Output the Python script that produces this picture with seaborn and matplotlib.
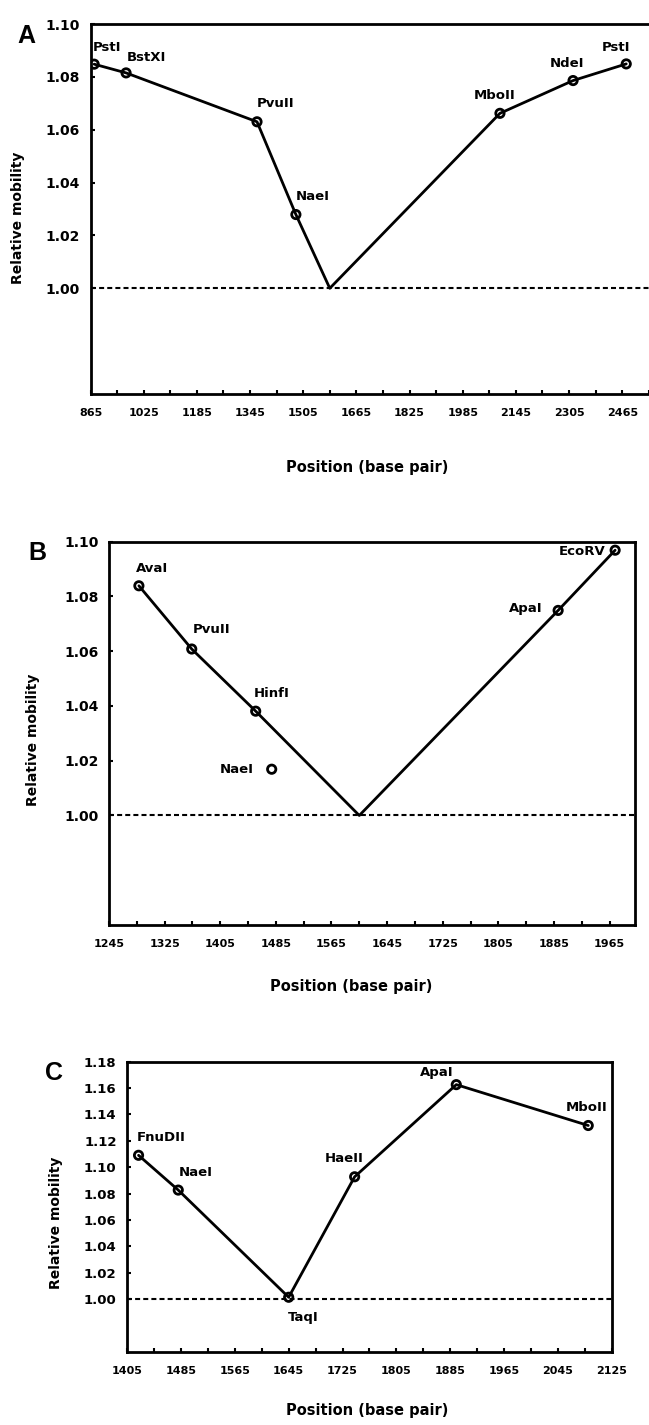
import matplotlib
matplotlib.use("Agg")
import matplotlib.pyplot as plt
import numpy as np
import seaborn as sns

sns.set_theme(style="white")
plt.rcParams['font.family'] = ['DejaVu Sans']
plt.rcParams['font.weight'] = 'bold'
plt.rcParams.update({'text.color': 'black', 'axes.labelcolor': 'black',
                     'xtick.color': 'black', 'ytick.color': 'black'})

W, H = 649, 1425

# ---- data ----
# panel A
a_sites = ["PstI", "BstXI", "PvuII", "NaeI", "MboII", "NdeI", "PstI"]
a_pos = [876, 972, 1366, 1483, 2097, 2317, 2477]
a_mob = [1.0848, 1.0815, 1.0630, 1.0279, 1.0662, 1.0786, 1.0849]
a_bend = [1585, 1.000]

# panel B
b_sites = ["AvaI", "PvuII", "HinfI", "ApaI", "EcoRV"]
b_pos = [1288, 1364, 1456, 1891, 1973]
b_mob = [1.0839, 1.0608, 1.0381, 1.0749, 1.0969]
b_bend = [1605, 1.000]
b_off_site = ["NaeI"]
b_off_pos = [1479]
b_off_mob = [1.0169]

# panel C
c_sites = ["FnuDII", "NaeI", "TaqI", "HaeII", "ApaI", "MboII"]
c_pos = [1422, 1481, 1645, 1743, 1894, 2090]
c_mob = [1.1090, 1.0826, 1.0013, 1.0927, 1.1626, 1.1316]

# label placement: (dx pt, dy pt, ha)
a_lab = [(-1, 12, 'left'), (0.5, 11.2, 'left'), (0, 13, 'left'), (0, 13, 'left'),
         (-3.6, 13, 'center'), (-4.3, 12.5, 'center'), (3, 11.7, 'right')]
b_lab = [(-1.8, 12.5, 'left'), (0.6, 14, 'left'), (-1.7, 12.7, 'left'),
         (-11.5, 1.5, 'right'), (-6.8, -1, 'right')]
b_off_lab = [(-12.6, 0, 'right')]
c_lab = [(-1, 12.5, 'left'), (0, 12.5, 'left'), (-0.6, -14.4, 'left'),
         (6.5, 13, 'right'), (-2, 8.6, 'right'), (-1.2, 13, 'center')]


def fx(px):
    return px / W


def fy(px):
    return 1 - px / H


def add_ax(fig, left, top, right, bottom):
    return fig.add_axes([fx(left), fy(bottom), fx(right) - fx(left), (bottom - top) / H])


def draw_line(ax, pos, mob, bend=None):
    xs = list(pos)
    ys = list(mob)
    if bend is not None:
        xs.append(bend[0])
        ys.append(bend[1])
    order = np.argsort(xs)
    xs = np.array(xs)[order]
    ys = np.array(ys)[order]
    sns.lineplot(x=xs, y=ys, ax=ax, color='black', linewidth=2.0, sort=False, zorder=3)


def draw_points(ax, sites, pos, mob, labs, fs=9.5):
    sns.scatterplot(x=pos, y=mob, ax=ax, s=36, facecolor='none', edgecolor='black',
                    linewidth=2.0, zorder=4)
    for name, x, y, (dx, dy, ha) in zip(sites, pos, mob, labs):
        ax.annotate(name, (x, y), xytext=(dx, dy), textcoords='offset points',
                    ha=ha, va='center', fontsize=fs, fontweight='bold', color='black')


def style_ax(ax, xlim, ylim, xmaj, xmin, yticks, xfs=8, yfs=10):
    ax.set_xlim(*xlim)
    ax.set_ylim(*ylim)
    ax.set_xticks(xmaj)
    ax.set_xticklabels([str(v) for v in xmaj])
    ax.set_xticks(xmin, minor=True)
    ax.set_yticks(yticks)
    ax.set_yticklabels([f"{v:.2f}" for v in yticks])
    ax.axhline(1.0, color='black', linewidth=1.5, linestyle=(0, (2.4, 1.5)), zorder=2)
    for s in ax.spines.values():
        s.set_linewidth(2.0)
        s.set_color('black')
    ax.tick_params(axis='both', which='both', direction='in', length=3, width=1.5,
                   color='black', bottom=True, left=True, top=False, right=False)
    ax.tick_params(axis='x', which='both', pad=10, labelsize=xfs)
    ax.tick_params(axis='y', which='both', pad=7.5, labelsize=yfs)
    ax.grid(False)
    ax.set_xlabel('')
    ax.set_ylabel('')


fig = plt.figure(figsize=(W / 100, H / 100), dpi=100)

# ---- panel A ----
axA = add_ax(fig, 90.5, 24, 650.5, 394)
draw_line(axA, a_pos, a_mob, a_bend)
draw_points(axA, a_sites, a_pos, a_mob, a_lab)
style_ax(axA, (865, 2550), (0.96, 1.10), list(range(865, 2466, 160)),
         list(range(945, 2546, 160)), np.round(np.arange(1.00, 1.101, 0.02), 2))

# ---- panel B ----
axB = add_ax(fig, 109, 541.7, 635.3, 925)
draw_line(axB, b_pos, b_mob, b_bend)
draw_points(axB, b_sites, b_pos, b_mob, b_lab)
draw_points(axB, b_off_site, b_off_pos, b_off_mob, b_off_lab)
style_ax(axB, (1245, 2002), (0.96, 1.10), list(range(1245, 1966, 80)),
         list(range(1285, 2000, 80)), np.round(np.arange(1.00, 1.101, 0.02), 2))

# ---- panel C ----
axC = add_ax(fig, 127.1, 1061.7, 611.8, 1351.7)
draw_line(axC, c_pos, c_mob)
draw_points(axC, c_sites, c_pos, c_mob, c_lab)
style_ax(axC, (1405, 2125), (0.96, 1.18), list(range(1405, 2126, 80)),
         list(range(1445, 2100, 80)), np.round(np.arange(1.00, 1.181, 0.02), 2),
         yfs=9.5)

# panel letters
for letter, px, py in [("A", 26, 36), ("B", 37, 552.7), ("C", 54, 1073)]:
    fig.text(fx(px), fy(py), letter, fontsize=18, fontweight='bold', ha='center',
             va='center', family=['Liberation Sans', 'DejaVu Sans'])

# axis titles
for px, py in [(18.5, 217.5), (33, 740), (56, 1223)]:
    fig.text(fx(px), fy(py), "Relative mobility", rotation=90, fontsize=10,
             fontweight='bold', ha='center', va='center')
for px, py in [(367.5, 467), (351, 986.7), (367, 1410)]:
    fig.text(fx(px), fy(py), "Position (base pair)", fontsize=10.5,
             fontweight='bold', ha='center', va='center')

fig.savefig("out.png", dpi=100)
